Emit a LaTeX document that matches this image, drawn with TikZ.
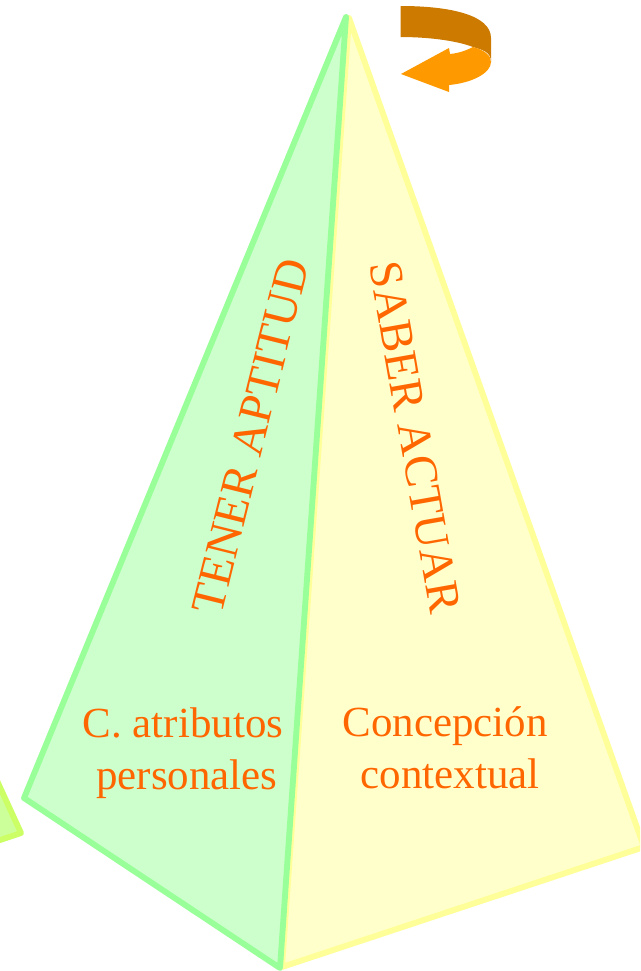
\documentclass[tikz,border=0pt]{standalone}
\usepackage{fontspec}
\setmainfont{Liberation Serif}
\definecolor{grfill}{HTML}{CCFFCC}
\definecolor{grline}{HTML}{99FF99}
\definecolor{yefill}{HTML}{FFFFCC}
\definecolor{yeline}{HTML}{FFFF99}
\definecolor{limefill}{HTML}{CCFF99}
\definecolor{limeline}{HTML}{CCFF66}
\definecolor{txt}{HTML}{FF6600}
\definecolor{arrdark}{HTML}{CC7A00}
\definecolor{arrlight}{HTML}{FF9900}
\tikzset{
  face/.style={line width=4.4pt, line join=round},
  lbl/.style={text=txt, font=\fontsize{32.2}{39}\selectfont, inner sep=0pt, align=center},
  rotlbl/.style={text=txt, font=\fontsize{35.2}{42}\selectfont, inner sep=0pt},
}
\begin{document}
\begin{tikzpicture}[x=0.75pt,y=-0.75pt]
\useasboundingbox (0,0) rectangle (640,971);
\clip (0,0) rectangle (640,971);
\coordinate (apexY) at (349,18);
\coordinate (rightY) at (644,847);
\coordinate (botY) at (282,967);
\coordinate (apexG) at (346,17);
\coordinate (leftG) at (24,798);
\coordinate (botG) at (280,968);
\coordinate (limeA) at (21,833);
\draw[face, fill=limefill, draw=limeline] (-40,700) -- (limeA) -- (-60,860) -- cycle;
\draw[face, fill=yefill, draw=yeline] (apexY) -- (rightY) -- (botY) -- cycle;
\draw[face, fill=grfill, draw=grline] (apexG) -- (leftG) -- (botG) -- cycle;
\fill[arrdark] (400.5,6) .. controls (450,6) and (491,15) .. (491,38)
  -- (491,62) .. controls (491,52) and (483,50) .. (473,47)
  .. controls (455,40) and (425,37) .. (400.5,37) -- cycle;
\fill[arrlight] (401,74) -- (449,48) -- (450,54)
  .. controls (460,53) and (467,50) .. (473,47)
  .. controls (484,50) and (491,55) .. (491,62)
  .. controls (491,73) and (472,83) .. (449,85)
  -- (449,92) -- cycle;
\node[rotlbl, rotate=76] (tener) at (250.5,436.5) {TENER APTITUD};
\node[rotlbl, rotate=-80] (saber) at (415,437) {SABER ACTUAR};
\node[lbl] (atrib) at (183,753) {C. atributos\\[0.4pt]\hspace*{6pt}personales};
\node[lbl] (conc) at (445,748) {Concepción\\[0.4pt]\hspace*{8pt}contextual};
\end{tikzpicture}
\end{document}
